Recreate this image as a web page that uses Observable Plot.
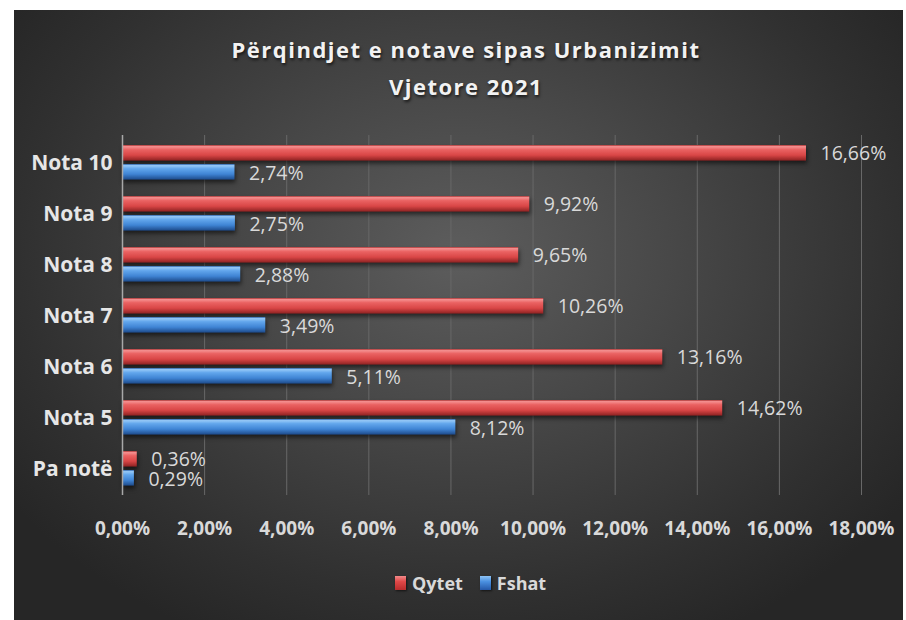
<!DOCTYPE html>
<html><head><meta charset="utf-8">
<script src="https://cdn.jsdelivr.net/npm/d3@7"></script>
<script src="https://cdn.jsdelivr.net/npm/@observablehq/plot@0.6"></script>
<style>
  body{margin:0;background:#fff;width:906px;height:620px;overflow:hidden;position:relative;font-family:"Open Sans",Lato,sans-serif}
  #bg{position:absolute;left:14px;top:10px;width:889px;height:610px;
      background:radial-gradient(ellipse 62% 70% at 50% 40%, #5d5d5d 0%, #474747 40%, #303030 80%, #262626 100%)}
  #title{position:absolute;left:0;top:31px;width:932px;text-align:center;color:#f2f2f2;
      font-weight:bold;font-size:22px;letter-spacing:1.5px;line-height:37px;
      text-shadow:1px 2px 3px rgba(0,0,0,0.65)}
  #chart{position:absolute;left:0;top:0}
  #legend{position:absolute;left:395px;top:571px;display:flex;align-items:center;color:#d9d9d9;
      font-weight:bold;font-size:18px}
  .mk{display:inline-block;width:11px;height:14px;margin-right:6px;box-shadow:1px 1px 2px rgba(0,0,0,.6)}
  .mk.red{background:linear-gradient(#f28a8a,#e04848 40%,#b82c2c 100%)}
  .mk.blue{background:linear-gradient(#8ec3f5,#4a90e0 40%,#2558a8 100%)}
</style>
</head><body>
<div id="bg"></div>
<div id="title">Përqindjet e notave sipas Urbanizimit<br>Vjetore 2021</div>
<div id="chart"></div>
<div id="legend"><span class="mk red"></span><span>Qytet</span><span style="width:17px"></span><span class="mk blue"></span><span>Fshat</span></div>
<script>
const categories = ["Nota 10","Nota 9","Nota 8","Nota 7","Nota 6","Nota 5","Pa notë"];
const qytet = [16.66, 9.92, 9.65, 10.26, 13.16, 14.62, 0.36];
const fshat = [2.74, 2.75, 2.88, 3.49, 5.11, 8.12, 0.29];
const xTicks = [0,2,4,6,8,10,12,14,16,18];
const seriesNames = ["Qytet","Fshat"];

const fmt = v => v.toFixed(2).replace(".", ",") + "%";
const rows = categories.map((c,i)=>({cat:c, qytet:qytet[i], fshat:fshat[i]}));

const labelFont = {fontFamily:"'Open Sans', Lato, sans-serif"};
const chart = Plot.plot({
  width: 906, height: 620,
  marginLeft: 122, marginRight: 45, marginTop: 135, marginBottom: 125,
  style: {background:"transparent", overflow:"visible", fontFamily:"'Open Sans', Lato, sans-serif"},
  x: {domain:[0,18], axis:null},
  y: {domain:categories, axis:null, padding:0},
  marks: [
    Plot.ruleX(xTicks.filter(d=>d>0), {x:d=>d, stroke:"#686868", strokeWidth:1}),
    Plot.barX(rows, {x:"qytet", y:"cat", insetTop:8, insetBottom:27.4, fill:"url(#gradRed)"}),
    Plot.barX(rows, {x:"fshat", y:"cat", insetTop:27, insetBottom:8.4, fill:"url(#gradBlue)"}),
    Plot.ruleX([0], {x:d=>d, stroke:"#a8a8a8", strokeWidth:1.5}),
    Plot.text(rows, {x:"qytet", y:"cat", text:d=>fmt(d.qytet), dx:14, dy:-9.5, textAnchor:"start", fill:"#d9d9d9", fontSize:19.5, ...labelFont}),
    Plot.text(rows, {x:"fshat", y:"cat", text:d=>fmt(d.fshat), dx:14, dy:11, textAnchor:"start", fill:"#d9d9d9", fontSize:19.5, ...labelFont}),
    Plot.text(categories, {y:d=>d, text:d=>d, frameAnchor:"left", dx:-10, textAnchor:"end", fill:"#e6e6e6", fontSize:21, fontWeight:"bold", ...labelFont}),
    Plot.text(xTicks, {x:d=>d, text:d=>fmt(d), frameAnchor:"bottom", lineAnchor:"middle", dy:33, fill:"#d9d9d9", fontSize:19, fontWeight:"bold", ...labelFont})
  ]
});

const svg = d3.select(chart);
const defs = svg.insert("defs", ":first-child");
function grad(id, stops){
  const g = defs.append("linearGradient").attr("id", id).attr("x1",0).attr("y1",0).attr("x2",0).attr("y2",1);
  stops.forEach(([o,c])=>g.append("stop").attr("offset",o).attr("stop-color",c));
}
grad("gradRed", [["0%","#a83232"],["10%","#f59090"],["30%","#ea6262"],["65%","#d94646"],["100%","#8e2222"]]);
grad("gradBlue", [["0%","#2a5fa8"],["10%","#95c8f7"],["30%","#62a6ec"],["65%","#3f84d4"],["100%","#1d4a8a"]]);
svg.selectAll("g[aria-label='bar']").style("filter","drop-shadow(1px 3px 2px rgba(0,0,0,0.55))");
document.getElementById("chart").appendChild(chart);
</script>
</body></html>
